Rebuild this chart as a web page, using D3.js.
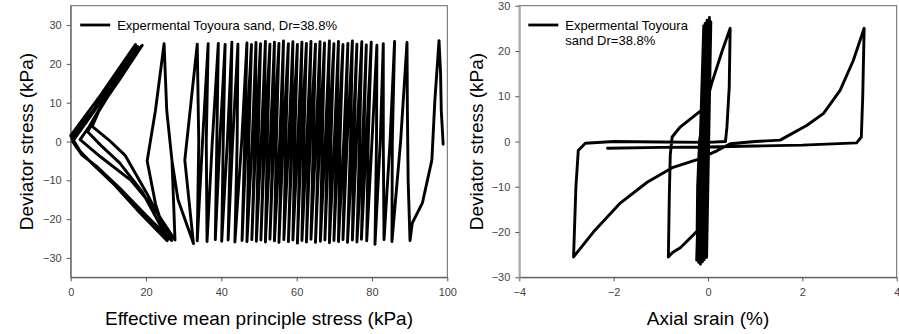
<!DOCTYPE html>
<html>
<head>
<meta charset="utf-8">
<script src="https://cdn.jsdelivr.net/npm/d3@7"></script>
<style>
  body { margin: 0; background: #fff; }
  svg { display: block; font-family: "Liberation Sans", Arial, sans-serif; }
  .tick text { fill: #444; font-size: 11px; }
</style>
</head>
<body>
<div id="chart"></div>
<script>
// left panel: effective mean stress p' (kPa) vs deviator stress q (kPa), in time order
const leftStart = [[98.9, -0.7], [98.4, 8], [98.2, 18], [97.8, 26], [96.7, 10.6], [95.9, -4.8],
                   [93.4, -15.8], [90.7, -21], [90.1, -25.5], [89.6, -10], [89.4, 8]];
// each cycle: [peak p', peak q, p' where the unloading line crosses q=0, trough p', trough q,
//              p' where the reloading line crosses q=0]
const leftCycles = [
  [89.3, 25.5, 87.6, 85.3, -25.8, 85.4], [86.0, 25.8, 84.8, 83.2, -25.3, 83.0],
  [83.0, 25.2, 82.2, 80.8, -26.5, 81.2], [81.3, 24.8, 80.0, 78.6, -25.6, 79.0],
  [79.8, 25.6, 78.5, 77.2, -25.2, 77.8], [78.5, 24.9, 77.5, 76.0, -25.9, 76.7],
  [77.3, 25.7, 75.9, 74.8, -25.4, 75.2], [76.0, 25.1, 74.9, 73.5, -26.0, 74.3],
  [74.8, 25.9, 73.4, 72.3, -25.3, 72.9], [73.6, 25.3, 72.5, 71.1, -25.8, 71.5],
  [72.3, 25.0, 71.0, 69.9, -25.5, 70.6], [71.1, 25.8, 70.0, 68.7, -26.1, 69.1],
  [69.9, 25.2, 68.5, 67.5, -25.4, 68.2], [68.7, 25.9, 67.6, 66.3, -25.7, 66.8],
  [67.4, 25.4, 66.1, 65.0, -26.0, 65.8], [66.2, 25.7, 65.1, 63.8, -25.2, 64.4],
  [65.0, 25.1, 63.6, 62.6, -25.9, 63.2], [63.8, 25.8, 62.7, 61.4, -25.5, 61.9],
  [62.6, 25.3, 61.2, 60.2, -26.2, 60.9], [61.4, 25.6, 60.3, 59.0, -25.4, 59.5],
  [60.2, 25.0, 58.8, 57.8, -25.8, 58.6], [59.0, 25.7, 57.9, 56.6, -25.3, 57.1],
  [57.8, 25.2, 56.4, 55.3, -26.0, 56.0], [56.5, 25.9, 55.5, 54.1, -25.6, 54.6],
  [55.3, 25.3, 53.9, 52.9, -25.2, 53.7], [54.1, 25.6, 53.0, 51.7, -25.9, 52.2],
  [52.9, 25.1, 51.5, 50.5, -25.4, 51.3], [51.7, 25.8, 50.6, 49.3, -25.7, 49.8],
  [50.4, 25.2, 49.1, 48.1, -25.3, 48.9], [49.2, 25.5, 48.2, 46.8, -25.8, 47.3],
  [48.0, 25.0, 46.6, 45.5, -25.5, 46.2], [46.8, 25.4, 45.4, 43.6, -25.9, 44.2],
  [44.4, 25.1, 43.0, 41.8, -25.4, 42.4], [42.8, 25.6, 41.6, 40.1, -25.7, 40.5],
  [41.0, 25.0, 39.6, 38.4, -25.3, 38.8], [39.2, 25.3, 37.6, 36.2, -25.8, 36.0],
  [36.5, 25.2, 35.0, 33.6, -25.6, 34.0]
];
// last cycles at low p' (butterfly shape)
const leftEnd = [
  [33.6, 25.1], [30.3, -4.8], [32.6, -26.3], [28.5, -15], [26.9, -5], [25.5, 8], [24.8, 25.2],
  [22.5, 8], [20.3, -5], [22.5, -16], [25.6, -25.6],
  [19, -19], [12, -11.5], [6, -6], [2.5, -2.5], [0.3, 1], [6, 8], [12, 17], [19, 24.8],
  [13, 16], [8, 9], [5.7, 3.9], [10, 0.5], [14.4, -3.5], [20, -13], [26.8, -25.5],
  [20, -19], [13, -12], [7, -6.5], [3, -3.5], [0.5, 0], [6, 7.5], [12, 16], [17.8, 24.5],
  [12, 15], [7, 7], [4.5, 2.5], [8, -1], [13, -5.5], [19, -13], [25.8, -25.2],
  [18, -18], [11, -10.5], [5, -5], [1.5, -1.5], [0, 1.5], [8, 12], [17.2, 25],
  [11, 14], [5, 4], [2.5, 0.5], [8, -4], [16, -10], [22, -17], [27.7, -25.4], [26.9, -5]
];

// right panel: axial strain (%) vs deviator stress q (kPa), in time order
const rightBand = [
  [0, 0], [0.02, 25.5], [-0.03, -25.6], [0.06, 26.4], [-0.08, -26.1], [0.03, 27.4],
  [-0.12, -26.6], [-0.02, 26.8], [-0.16, -27.1], [-0.06, 26.1], [-0.2, -26.7],
  [-0.09, 25.6], [-0.24, -26.2], [-0.04, 26.0]
];
const rightLarge = [
  [-0.05, 12], [-0.13, 7], [-0.59, 3.2], [-0.76, 1], [-0.8, -3], [-0.82, -12], [-0.84, -25.5],
  [-0.75, -24.5], [-0.58, -23.4], [-0.23, -19.8], [-0.22, -10], [-0.18, 0], [-0.1, 6],
  [0.08, 12.9], [0.3, 20], [0.47, 25],
  [0.45, 12], [0.4, 3], [0.37, 0], [0, -0.2], [-1, -0.1], [-2, 0], [-2.6, -0.4],
  [-2.75, -2], [-2.8, -10], [-2.85, -25.5],
  [-2.43, -20], [-1.86, -13.6], [-1.29, -9], [-0.74, -5.7], [-0.23, -4], [0.2, -2],
  [0.47, -0.5], [1.0, 0], [1.53, 0.3], [2.1, 3.6], [2.45, 6.2], [2.8, 11.3], [3.08, 17.9], [3.31, 25],
  [3.28, 10], [3.25, 1], [3.15, -0.3], [2, -0.8], [1, -1], [0, -1.2], [-1, -1.3], [-2.13, -1.5]
];

const leftXTicks = [0, 20, 40, 60, 80, 100];
const leftYTicks = [-30, -20, -10, 0, 10, 20, 30];
const rightXTicks = [-4, -2, 0, 2, 4];
const rightYTicks = [-30, -20, -10, 0, 10, 20, 30];
const legendText = 'Expermental Toyoura sand, Dr=38.8%';

const width = 899, height = 334;
const plotTop = 5.7, plotBottom = 277.3;

const svg = d3.select('#chart').append('svg')
    .attr('width', width)
    .attr('height', height);

function panel(opts) {
    const x = d3.scaleLinear().domain(opts.xDomain).range([opts.left, opts.right]);
    const y = d3.scaleLinear().domain(opts.yDomain).range([plotBottom, plotTop]);
    const g = svg.append('g');

    // frame
    g.append('rect')
        .attr('x', opts.left).attr('y', plotTop)
        .attr('width', opts.right - opts.left).attr('height', plotBottom - plotTop)
        .attr('fill', 'none').attr('stroke', '#666').attr('stroke-width', 1);

    const xAxis = g.append('g')
        .attr('transform', `translate(0, ${plotBottom})`)
        .call(d3.axisBottom(x).tickValues(opts.xTicks).tickSize(4).tickPadding(7).tickSizeOuter(0));
    const yAxis = g.append('g')
        .attr('transform', `translate(${opts.left}, 0)`)
        .call(d3.axisLeft(y).tickValues(opts.yTicks).tickSize(4).tickPadding(5).tickSizeOuter(0));
    xAxis.select('.domain').attr('stroke', '#555');
    yAxis.select('.domain').attr('stroke', opts.yAxisColor).attr('stroke-width', opts.yAxisWidth);
    g.selectAll('.tick line').attr('stroke', '#555');

    const line = d3.line().x(d => x(d[0])).y(d => y(d[1]));
    g.append('path')
        .datum(opts.points)
        .attr('d', line)
        .attr('fill', 'none')
        .attr('stroke', '#000')
        .attr('stroke-width', 2.9)
        .attr('stroke-linejoin', 'round')
        .attr('stroke-linecap', 'round');

    // axis titles
    g.append('text')
        .attr('x', (opts.left + opts.right) / 2)
        .attr('y', 325)
        .attr('text-anchor', 'middle')
        .attr('font-size', 19)
        .text(opts.xTitle);
    g.append('text')
        .attr('transform', `translate(${opts.yTitleX}, ${(plotTop + plotBottom) / 2}) rotate(-90)`)
        .attr('text-anchor', 'middle')
        .attr('font-size', 19)
        .text('Deviator stress (kPa)');

    // legend
    g.append('line')
        .attr('x1', opts.left + opts.legendDx).attr('x2', opts.left + opts.legendDx + 30)
        .attr('y1', 25).attr('y2', 25)
        .attr('stroke', '#000').attr('stroke-width', 2.8);
    const lt = g.append('text')
        .attr('x', opts.left + opts.legendDx + 37)
        .attr('y', 29.5)
        .attr('font-size', 13);
    opts.legendLines.forEach((s, i) => {
        lt.append('tspan')
            .attr('x', opts.left + opts.legendDx + 37)
            .attr('dy', i === 0 ? 0 : 15)
            .text(s);
    });
}

// left: flatten the cycle table into the path
const leftPoints = leftStart.slice();
leftCycles.forEach(c => {
    leftPoints.push([c[0], c[1]]);
    leftPoints.push([c[2], 0]);
    leftPoints.push([c[3], c[4]]);
    leftPoints.push([c[5], 0]);
});
leftEnd.forEach(d => leftPoints.push(d));

panel({
    left: 70.7, right: 447.3,
    xDomain: [0, 100], yDomain: [-35, 35],
    xTicks: leftXTicks, yTicks: leftYTicks,
    yAxisColor: '#666', yAxisWidth: 1,
    points: leftPoints,
    xTitle: 'Effective mean principle stress (kPa)',
    yTitleX: 33,
    legendDx: 9.5,
    legendLines: [legendText]
});

panel({
    left: 519.3, right: 896.7,
    xDomain: [-4, 4], yDomain: [-30, 30],
    xTicks: rightXTicks, yTicks: rightYTicks,
    yAxisColor: '#aaa', yAxisWidth: 2,
    points: rightBand.concat(rightLarge),
    xTitle: 'Axial srain (%)',
    yTitleX: 483,
    legendDx: 9,
    legendLines: ['Expermental Toyoura', 'sand Dr=38.8%']
});
</script>
</body>
</html>
